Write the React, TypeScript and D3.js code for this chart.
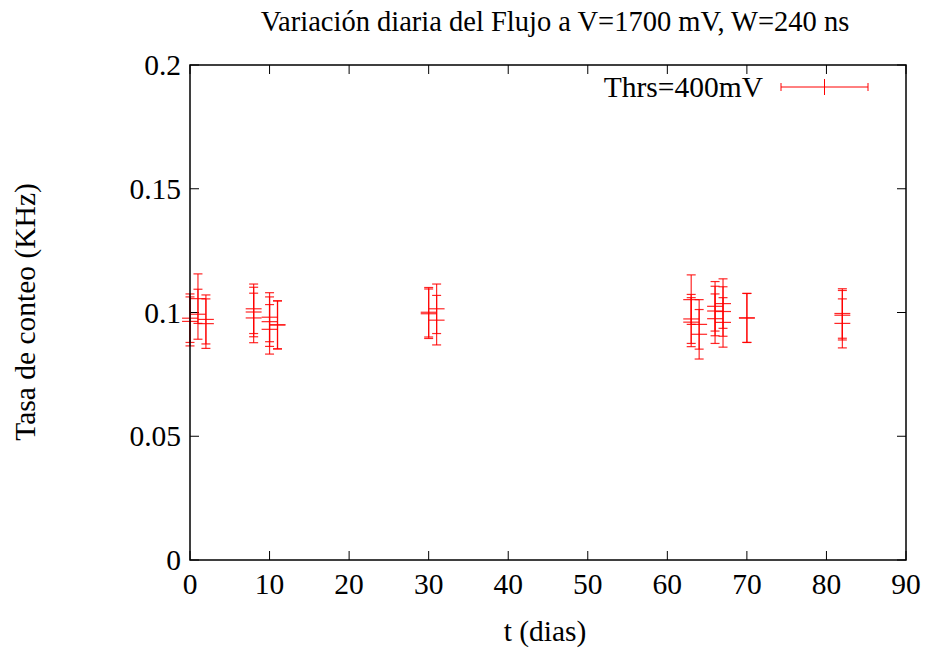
import React from "react";
import * as d3 from "d3";

// Data
const days = [0, 0, 1, 1, 2, 2, 8, 8, 8, 10, 10, 10, 11, 11, 30, 30, 31, 31, 63, 63, 63, 64, 64, 66, 66, 66, 67, 67, 67, 70, 70, 82, 82, 82];
const rates = [0.0977, 0.0964, 0.1056, 0.0993, 0.0972, 0.0955, 0.1015, 0.1002, 0.0978, 0.0981, 0.0963, 0.0932, 0.095, 0.095, 0.1001, 0.0995, 0.1015, 0.0969, 0.1052, 0.0974, 0.0961, 0.0952, 0.0912, 0.1025, 0.1006, 0.0975, 0.1036, 0.1004, 0.096, 0.0978, 0.0978, 0.0996, 0.0989, 0.0956];
const rateErrors = [0.0098, 0.0099, 0.01, 0.0101, 0.0099, 0.01, 0.01, 0.01, 0.01, 0.0099, 0.01, 0.01, 0.0097, 0.0097, 0.01, 0.01, 0.01, 0.01, 0.01, 0.0099, 0.0099, 0.01, 0.01, 0.01, 0.01, 0.01, 0.01, 0.01, 0.01, 0.0099, 0.0099, 0.01, 0.01, 0.0099];
const dayError = 1;

const xTicks = [0, 10, 20, 30, 40, 50, 60, 70, 80, 90];
const yTicks = [0, 0.05, 0.1, 0.15, 0.2];
const yTickLabels = ["0", "0.05", "0.1", "0.15", "0.2"];

const title = "Variación diaria del Flujo a V=1700 mV, W=240 ns";
const xTitle = "t (dias)";
const yTitle = "Tasa de conteo (KHz)";
const legendLabel = "Thrs=400mV";

export default function App() {
  const W = 925, H = 650;
  const left = 190, right = 906, top = 65, bottom = 560;
  const x = d3.scaleLinear().domain([0, 90]).range([left, right]);
  const y = d3.scaleLinear().domain([0, 0.2]).range([bottom, top]);
  const font = "'Liberation Serif', 'DejaVu Serif', serif";
  const red = "#ff0000";
  const tick = 9;
  const cap = 4.5;
  const fs = 29.5;

  return (
    <svg width={W} height={H} style={{ position: "absolute", left: 0, top: 0, background: "#fff" }}>
      <rect x={0} y={0} width={W} height={H} fill="#fff" />
      {/* ticks */}
      {xTicks.map((t) => (
        <g key={"xt" + t}>
          <line x1={x(t)} x2={x(t)} y1={bottom} y2={bottom - tick} stroke="#000" strokeWidth={1} />
          <line x1={x(t)} x2={x(t)} y1={top} y2={top + tick} stroke="#000" strokeWidth={1} />
          <text x={x(t)} y={bottom + 34} textAnchor="middle" fontFamily={font} fontSize={fs} fill="#000">{t}</text>
        </g>
      ))}
      {yTicks.map((t, i) => (
        <g key={"yt" + t}>
          <line x1={left} x2={left + tick} y1={y(t)} y2={y(t)} stroke="#000" strokeWidth={1} />
          <line x1={right} x2={right - tick} y1={y(t)} y2={y(t)} stroke="#000" strokeWidth={1} />
          <text x={left - 9} y={y(t) + 10} textAnchor="end" fontFamily={font} fontSize={fs} fill="#000">{yTickLabels[i]}</text>
        </g>
      ))}
      {/* data */}
      {days.map((d, i) => {
        const cx = x(d), cy = y(rates[i]);
        const y1 = y(rates[i] + rateErrors[i]), y2 = y(rates[i] - rateErrors[i]);
        const x1 = x(d - dayError), x2 = x(d + dayError);
        return (
          <g key={"p" + i} stroke={red} strokeWidth={1.2} strokeOpacity={0.85}>
            <line x1={cx} x2={cx} y1={y1} y2={y2} />
            <line x1={cx - cap} x2={cx + cap} y1={y1} y2={y1} />
            <line x1={cx - cap} x2={cx + cap} y1={y2} y2={y2} />
            <line x1={x1} x2={x2} y1={cy} y2={cy} />
          </g>
        );
      })}
      {/* frame */}
      <rect x={left} y={top} width={right - left} height={bottom - top} fill="none" stroke="#000" strokeWidth={1.5} />
      {/* legend */}
      <text x={763} y={97} textAnchor="end" fontFamily={font} fontSize={fs} fill="#000">{legendLabel}</text>
      <g stroke={red} strokeWidth={1}>
        <line x1={781} x2={868} y1={87} y2={87} />
        <line x1={781} x2={781} y1={83} y2={91} />
        <line x1={868} x2={868} y1={83} y2={91} />
        <line x1={824.5} x2={824.5} y1={79} y2={95} />
      </g>
      {/* titles */}
      <text x={555} y={31} textAnchor="middle" fontFamily={font} fontSize={28.5} fill="#000">{title}</text>
      <text x={545} y={641} textAnchor="middle" fontFamily={font} fontSize={fs} fill="#000">{xTitle}</text>
      <text transform={`translate(35,312) rotate(-90)`} textAnchor="middle" fontFamily={font} fontSize={fs} fill="#000">{yTitle}</text>
    </svg>
  );
}
